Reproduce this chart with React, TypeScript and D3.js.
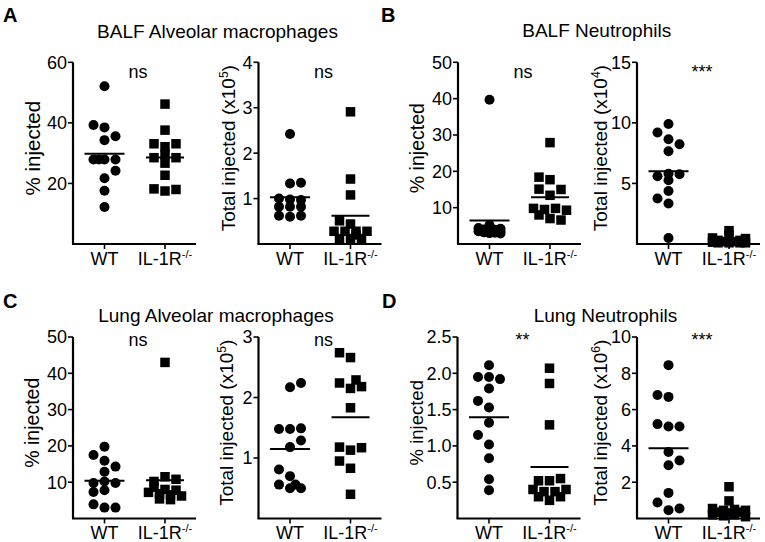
import React from 'react';
import * as d3 from 'd3';

const GROUPS = ['WT', 'IL-1R'];

// A: BALF alveolar macrophages, % injected
const A1_WT = [52.1, 39.3, 38.5, 35.6, 34.3, 27.9, 27.9, 27.9, 27.9, 24.2, 21.7, 17.6, 12.2];
const A1_WT_SLOT = [0, -1, 0, 1, 0, -1, -0.5, 0, 1, 1, 0, 0, 0];
const A1_KO = [46.2, 37.6, 33.1, 33.1, 32.1, 28.5, 29.5, 28.5, 26.7, 22.7, 18.2, 17.5, 18.0];
const A1_KO_SLOT = [0, 0, -1, 1, 0, -1, 0, 1, 0, 0, -1, 0, 1];
const A1_TICKS = [20, 40, 60];

// A: BALF alveolar macrophages, total (x10^5)
const A2_WT = [2.42, 1.35, 1.33, 1.0, 0.98, 0.97, 0.82, 0.82, 0.82, 0.62, 0.6, 0.62];
const A2_WT_SLOT = [0, 1, 0, -1, 0, 1, -1, 0, 1, -1, 0, 1];
const A2_KO = [2.91, 1.43, 1.08, 0.51, 0.44, 0.28, 0.28, 0.28, 0.28, 0.2, 0.12, 0.12, 0.12];
const A2_KO_SLOT = [0, 0, 0, -1, 0, -1.5, -0.5, 0.5, 1.5, 0.5, -1, 0, 1];
const A2_TICKS = [1, 2, 3, 4];

// B: BALF neutrophils, % injected
const B1_WT = [39.7, 5.2, 4.4, 4.2, 4.0, 3.9, 3.7, 3.5, 3.4, 3.2, 3.1, 3.0, 2.9];
const B1_WT_SLOT = [0, 0, -1, 1, -0.5, 0.5, 0, -1, 1, -0.5, 0.5, 0, 1];
const B1_KO = [27.9, 18.4, 17.7, 15.1, 15.0, 13.4, 9.8, 9.5, 9.8, 9.3, 8.0, 7.0, 6.6];
const B1_KO_SLOT = [0, -1, 0, -1, 1, 0, -1.5, -0.5, 0.5, 1.5, -1, 0, 1];
const B1_TICKS = [10, 20, 30, 40, 50];

// B: BALF neutrophils, total (x10^4)
const B2_WT = [9.9, 9.2, 8.65, 8.24, 7.66, 5.6, 5.8, 5.76, 5.26, 3.75, 4.38, 3.34, 0.5];
const B2_WT_SLOT = [0, -1, 0, 1, 0, -1, 0, 1, 0, -1, 0, 0, 0];
const B2_KO = [1.1, 0.8, 0.5, 0.45, 0.3, 0.3, 0.2, 0.2, 0.15, 0.1, 0.1, 0.1, 0.1];
const B2_KO_SLOT = [0, 0, -1.5, 1.5, -1, 1, -0.5, 0.5, -1.5, 0, 1.5, -1, 1];
const B2_TICKS = [5, 10, 15];

// C: Lung alveolar macrophages, % injected
const C1_WT = [19.8, 17.5, 15.9, 14.3, 12.9, 9.8, 10.2, 9.8, 7.8, 7.3, 3.9, 3.0, 3.0];
const C1_WT_SLOT = [0, -1, 0, 1, 0, -1, 0, 1, 0, -1, -1, 0, 1];
const C1_KO = [43.0, 11.5, 10.8, 10.2, 8.6, 8.0, 7.8, 7.2, 6.8, 6.5, 6.2, 5.4, 5.2];
const C1_KO_SLOT = [0, 0, 1, -1, -1, 0, 1, -1.5, -0.5, 0.5, 1.5, -0.5, 0.5];
const C1_TICKS = [10, 20, 30, 40, 50];

// C: Lung alveolar macrophages, total (x10^5)
const C2_WT = [2.24, 2.17, 1.48, 1.48, 1.49, 1.29, 1.18, 0.81, 0.7, 0.56, 0.5, 0.56, 0.5];
const C2_WT_SLOT = [1, 0, -1, 0, 1, 1, 0, -1, 0, -1, 0, 0.5, 1];
const C2_KO = [2.74, 2.66, 2.24, 2.29, 2.15, 2.18, 1.83, 1.18, 1.13, 1.17, 0.95, 0.83, 0.4];
const C2_KO_SLOT = [-1, 0, -1, 0.5, 0, 1, 0, -1, 0, 1, -1, 0, 0];
const C2_TICKS = [1, 2, 3];

// D: Lung neutrophils, % injected
const D1_WT = [2.11, 1.95, 1.95, 1.92, 1.79, 1.62, 1.53, 1.32, 1.15, 1.02, 0.83, 0.54, 0.39];
const D1_WT_SLOT = [0, -1, 0, 1, 0, -1, 0, 0, -1, 0, 0, 0, 0];
const D1_KO = [2.07, 1.86, 1.29, 0.52, 0.52, 0.55, 0.4, 0.37, 0.37, 0.4, 0.3, 0.25, 0.3];
const D1_KO_SLOT = [0, 0, 0, -1, 0, 1, -1.5, -0.5, 0.5, 1.5, -1, 0, 1];
const D1_TICKS = [0.5, 1.0, 1.5, 2.0, 2.5];

// D: Lung neutrophils, total (x10^6)
const D2_WT = [8.45, 6.8, 6.7, 5.2, 5.07, 5.07, 3.66, 3.2, 2.93, 1.41, 0.88, 0.46, 0.55];
const D2_WT_SLOT = [0, -1, 0, -1, 0, 1, 0, 1, 0, 0, -1, 0, 1];
const D2_KO = [1.75, 0.97, 0.55, 0.45, 0.5, 0.45, 0.35, 0.3, 0.35, 0.2, 0.15, 0.2, 0.1];
const D2_KO_SLOT = [0, 0, -1.5, -0.5, 0.5, 1.5, -1, 0, 1, -1.5, -0.5, 0.5, 1.5];
const D2_TICKS = [2, 4, 6, 8, 10];

const FONT = '"Liberation Sans", Arial, Helvetica, sans-serif';
const SLOT_PX = 11;

type PanelProps = {
  x0: number; yTop: number; yBot: number; max: number; ticks: number[]; fmt?: (v: number) => string;
  wt: number[]; wtSlot: number[]; ko: number[]; koSlot: number[];
  ylabel: string; exp?: string; sig: string; sigY: number; labelDx: number; labelSize: number;
};

function Panel(p: PanelProps) {
  const y = d3.scaleLinear().domain([0, p.max]).range([p.yBot, p.yTop]);
  const x = d3.scalePoint<string>().domain(GROUPS).range([p.x0 + 31.5, p.x0 + 92]);
  const slot = d3.scaleLinear().domain([0, 1]).range([0, SLOT_PX]);
  const fmt = p.fmt || ((v: number) => String(v));
  const mWT = d3.mean(p.wt) as number;
  const mKO = d3.mean(p.ko) as number;
  const xw = x('WT') as number;
  const xk = x('IL-1R') as number;
  const sq = 9.5;
  const yc = (p.yTop + p.yBot) / 2 - 5;
  const lx = p.x0 + p.labelDx;
  return (
    <g>
      <path d={`M${p.x0},${p.yTop}V${p.yBot}`} stroke="#000" strokeWidth={2.2} fill="none" />
      <path d={`M${p.x0 - 1},${p.yBot}H${p.x0 + 123}`} stroke="#000" strokeWidth={2.2} fill="none" />
      {p.ticks.map((t) => (
        <g key={t}>
          <line x1={p.x0 - 5} x2={p.x0} y1={y(t)} y2={y(t)} stroke="#000" strokeWidth={1.6} />
          <text x={p.x0 - 6} y={y(t)} dy="0.36em" textAnchor="end" fontSize={18}>{fmt(t)}</text>
        </g>
      ))}
      {GROUPS.map((g) => (
        <g key={g}>
          <line x1={x(g)} x2={x(g)} y1={p.yBot} y2={p.yBot + 5} stroke="#000" strokeWidth={1.6} />
          <text x={x(g)} y={p.yBot + 20.5} textAnchor="middle" fontSize={18}>
            {g}
            {g !== 'WT' && <tspan fontSize={11} dy={-7}>-/-</tspan>}
          </text>
        </g>
      ))}
      <text transform={`translate(${lx},${yc}) rotate(-90)`} textAnchor="middle" fontSize={p.labelSize}>
        {p.ylabel}
        {p.exp && <tspan fontSize={12} dy={-7}>{p.exp}</tspan>}
        {p.exp && <tspan dy={7}>)</tspan>}
      </text>
      <text x={p.x0 + 65} y={p.sigY} textAnchor="middle" fontSize={18}>{p.sig}</text>
      {p.wt.map((v, i) => (
        <circle key={'w' + i} cx={xw + slot(p.wtSlot[i])} cy={y(v)} r={5} fill="#000" />
      ))}
      {p.ko.map((v, i) => (
        <rect key={'k' + i} x={xk + slot(p.koSlot[i]) - sq / 2} y={y(v) - sq / 2} width={sq} height={sq} fill="#000" />
      ))}
      <line x1={xw - 20} x2={xw + 20} y1={y(mWT)} y2={y(mWT)} stroke="#000" strokeWidth={2} />
      <line x1={xk - 19} x2={xk + 19} y1={y(mKO)} y2={y(mKO)} stroke="#000" strokeWidth={2} />
    </g>
  );
}

export default function App() {
  const cols = [73, 258.5, 458, 637];
  const top = { yTop: 62.3, yBot: 244, sigY: 78 };
  const bot = { yTop: 337, yBot: 518.5, sigY: 346 };
  const f1 = d3.format('.1f');
  return (
    <svg width={765} height={542} style={{ position: 'absolute', left: 0, top: 0, background: '#fff' }} fontFamily={FONT}>
      <rect width={765} height={542} fill="#fff" />
      <text x={3} y={22} fontSize={20} fontWeight="bold">A</text>
      <text x={381} y={22} fontSize={20} fontWeight="bold">B</text>
      <text x={3} y={308} fontSize={20} fontWeight="bold">C</text>
      <text x={382} y={308} fontSize={20} fontWeight="bold">D</text>
      <text x={217.5} y={38} textAnchor="middle" fontSize={19}>BALF Alveolar macrophages</text>
      <text x={596.7} y={37} textAnchor="middle" fontSize={19}>BALF Neutrophils</text>
      <text x={216} y={322} textAnchor="middle" fontSize={19}>Lung Alveolar macrophages</text>
      <text x={605.5} y={322} textAnchor="middle" fontSize={19}>Lung Neutrophils</text>

      <Panel x0={cols[0]} {...top} max={60} ticks={A1_TICKS} wt={A1_WT} wtSlot={A1_WT_SLOT} ko={A1_KO} koSlot={A1_KO_SLOT} ylabel="% injected" labelSize={20.5} sig="ns" labelDx={-33} />
      <Panel x0={cols[1]} {...top} max={4} ticks={A2_TICKS} wt={A2_WT} wtSlot={A2_WT_SLOT} ko={A2_KO} koSlot={A2_KO_SLOT} ylabel="Total injected (x10" exp="5" labelSize={19} sig="ns" labelDx={-24} />
      <Panel x0={cols[2]} {...top} max={50} ticks={B1_TICKS} wt={B1_WT} wtSlot={B1_WT_SLOT} ko={B1_KO} koSlot={B1_KO_SLOT} ylabel="% injected" labelSize={19.5} sig="ns" labelDx={-34.5} />
      <Panel x0={cols[3]} {...top} max={15} ticks={B2_TICKS} wt={B2_WT} wtSlot={B2_WT_SLOT} ko={B2_KO} koSlot={B2_KO_SLOT} ylabel="Total injected (x10" exp="4" labelSize={19} sig="***" labelDx={-30} />

      <Panel x0={cols[0]} {...bot} max={50} ticks={C1_TICKS} wt={C1_WT} wtSlot={C1_WT_SLOT} ko={C1_KO} koSlot={C1_KO_SLOT} ylabel="% injected" labelSize={19.5} sig="ns" labelDx={-34} />
      <Panel x0={cols[1]} {...bot} max={3} ticks={C2_TICKS} wt={C2_WT} wtSlot={C2_WT_SLOT} ko={C2_KO} koSlot={C2_KO_SLOT} ylabel="Total injected (x10" exp="5" labelSize={19} sig="ns" labelDx={-26} />
      <Panel x0={cols[2] - 0.5} {...bot} max={2.5} ticks={D1_TICKS} fmt={f1} wt={D1_WT} wtSlot={D1_WT_SLOT} ko={D1_KO} koSlot={D1_KO_SLOT} ylabel="% injected" labelSize={18.5} sig="**" labelDx={-35} />
      <Panel x0={cols[3]} {...bot} max={10} ticks={D2_TICKS} wt={D2_WT} wtSlot={D2_WT_SLOT} ko={D2_KO} koSlot={D2_KO_SLOT} ylabel="Total injected (x10" exp="6" labelSize={19} sig="***" labelDx={-30.5} />
    </svg>
  );
}
